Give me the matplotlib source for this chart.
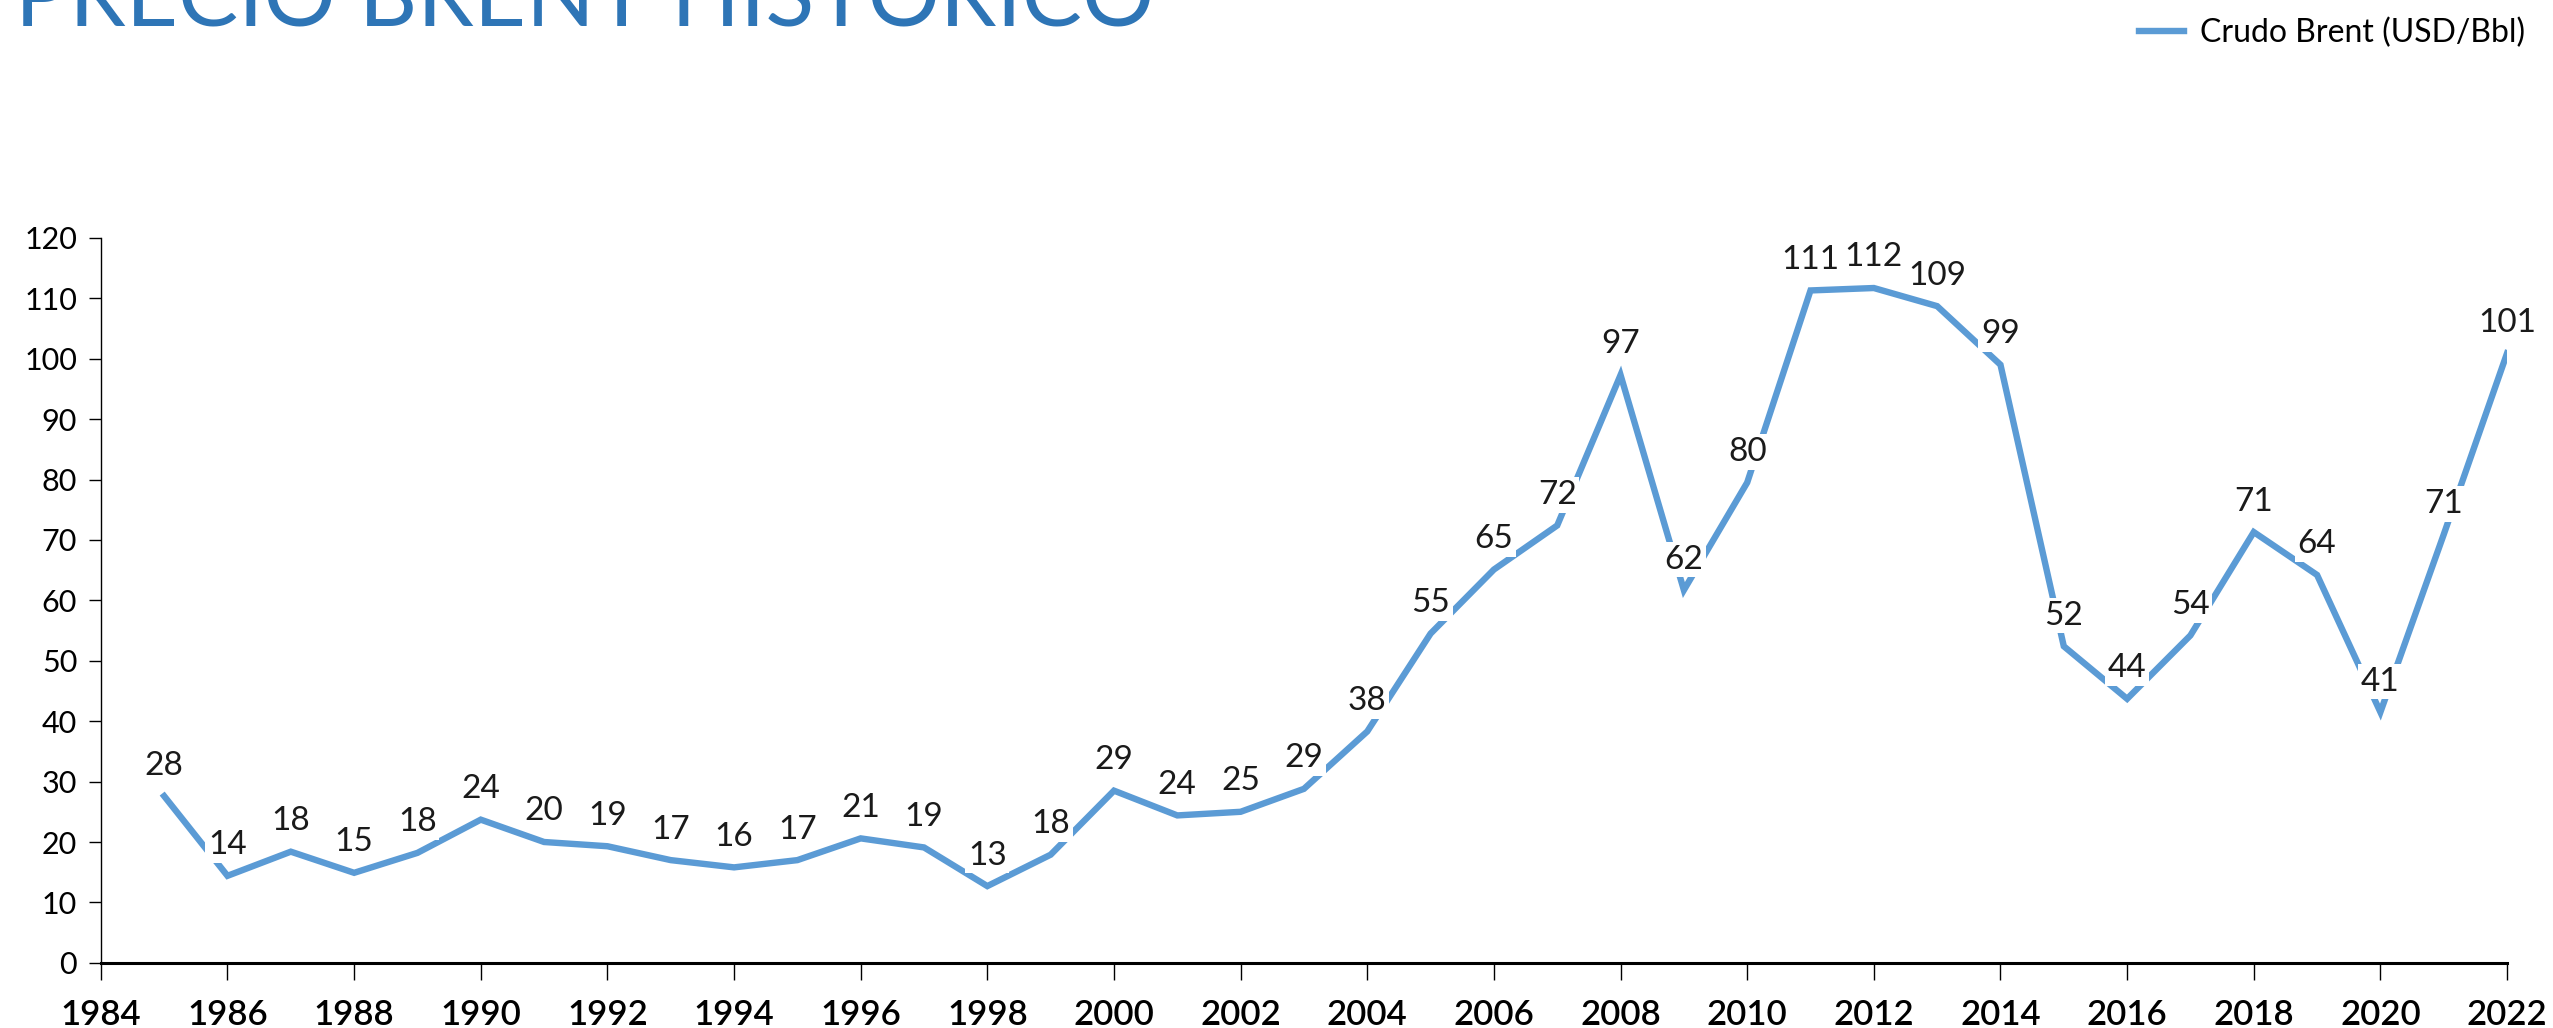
import numpy as np
import matplotlib.pyplot as plt

# Datos: precio promedio anual del crudo Brent (USD/Bbl)
anios = [1985, 1986, 1987, 1988, 1989, 1990, 1991, 1992, 1993, 1994,
         1995, 1996, 1997, 1998, 1999, 2000, 2001, 2002, 2003, 2004,
         2005, 2006, 2007, 2008, 2009, 2010, 2011, 2012, 2013, 2014,
         2015, 2016, 2017, 2018, 2019, 2020, 2021, 2022]
precio = [27.6, 14.4, 18.4, 14.9, 18.2, 23.7, 20.0, 19.3, 17.0, 15.8,
          17.0, 20.6, 19.1, 12.7, 17.9, 28.5, 24.4, 25.0, 28.8, 38.3,
          54.5, 65.1, 72.4, 97.3, 61.7, 79.5, 111.3, 111.7, 108.7, 99.0,
          52.4, 43.7, 54.2, 71.3, 64.2, 41.5, 70.9, 100.9]
etiquetas = ['28', '14', '18', '15', '18', '24', '20', '19', '17', '16',
             '17', '21', '19', '13', '18', '29', '24', '25', '29', '38',
             '55', '65', '72', '97', '62', '80', '111', '112', '109', '99',
             '52', '44', '54', '71', '64', '41', '71', '101']

azul = '#5B9BD5'
plt.rcParams['font.family'] = ['Lato', 'DejaVu Sans']

fig = plt.figure(figsize=(25.53, 10.28), dpi=100)
ax = fig.add_axes([0.0395, 0.0634, 0.9425, 0.7052])

ax.plot(anios, precio, color=azul, lw=4.6, solid_joinstyle='miter',
        label='Crudo Brent (USD/Bbl)', zorder=2)

# Etiquetas de datos con fondo blanco sobre la línea
for x, y, t in zip(anios, precio, etiquetas):
    ax.annotate(t, (x, y), xytext=(0, 22), textcoords='offset points',
                ha='center', va='center', fontsize=24, color='#1a1a1a',
                bbox=dict(boxstyle='square,pad=0.08', fc='white', ec='none'),
                zorder=3)

ax.set_xlim(1984, 2022)
ax.set_ylim(0, 120)
ax.set_xticks(np.arange(1984, 2023, 2))
ax.set_yticks(np.arange(0, 121, 10))
ax.tick_params(axis='y', labelsize=22, length=9, width=1, direction='out',
               colors='black', pad=8)
ax.tick_params(axis='x', labelsize=25, length=12, width=1, direction='out',
               colors='black', pad=14)
for lab in ax.get_xticklabels():
    lab.set_fontweight('semibold')

for s in ['top', 'right']:
    ax.spines[s].set_visible(False)
ax.spines['left'].set_linewidth(1.0)
ax.spines['bottom'].set_linewidth(2.2)

fig.text(0.006, 0.9755, 'PRECIO BRENT HISTÓRICO', fontsize=65,
         fontweight='normal', color='#2E75B6', va='baseline', ha='left')

fig.legend(loc='center right', bbox_to_anchor=(0.994, 0.968), frameon=False,
           fontsize=23, handlelength=1.4, handletextpad=0.5, borderaxespad=0)

fig.savefig('out.png', dpi=100)
